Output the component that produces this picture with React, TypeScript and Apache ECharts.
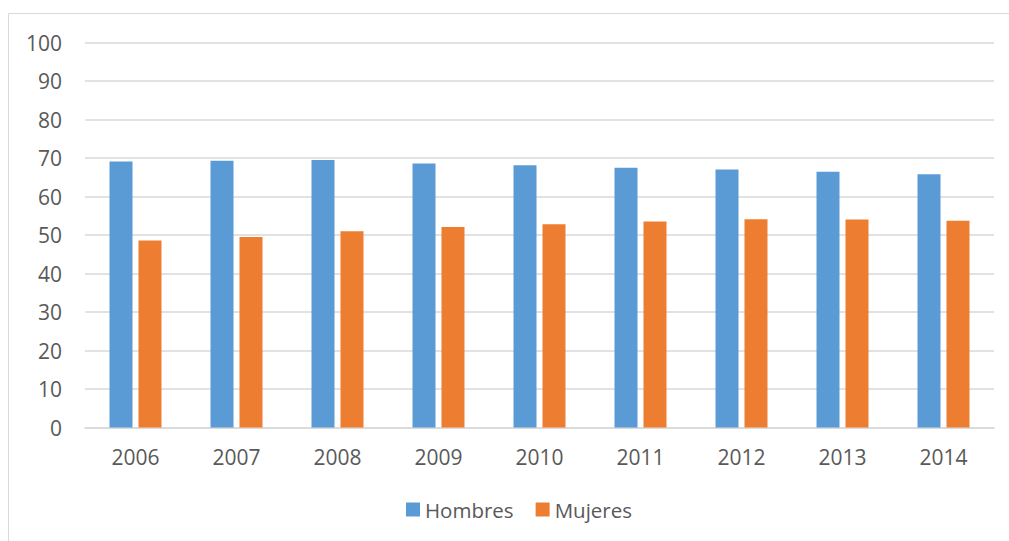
import React, { useEffect, useRef } from "react";
import * as echarts from "echarts";

const years = ["2006", "2007", "2008", "2009", "2010", "2011", "2012", "2013", "2014"];
const hombres = [69.1, 69.3, 69.5, 68.6, 68.1, 67.5, 67.0, 66.4, 65.8];
const mujeres = [48.6, 49.5, 51.0, 52.1, 52.8, 53.5, 54.1, 54.0, 53.7];

export default function App() {
  const ref = useRef<HTMLDivElement>(null);
  useEffect(() => {
    if (!ref.current) return;
    document.body.style.overflow = "hidden";
    const chart = echarts.init(ref.current, null, { renderer: "svg" });
    const font = "'Open Sans', sans-serif";
    chart.setOption({
      animation: false,
      textStyle: { fontFamily: font },
      graphic: [
        {
          type: "polyline",
          shape: { points: [[0.5, 600], [0.5, 5.5], [1100, 5.5]] },
          style: { fill: "none", stroke: "#d9d9d9", lineWidth: 1 },
          silent: true,
        },
      ],
      grid: { left: 77, right: 15, top: 34.5, bottom: 113.5, containLabel: false },
      legend: {
        left: 393,
        top: 486,
        itemWidth: 14,
        itemHeight: 14,
        itemGap: 22,
        icon: "rect",
        textStyle: { fontSize: 20.5, color: "#595959", fontFamily: font },
        data: ["Hombres", "Mujeres"],
      },
      xAxis: {
        type: "category",
        data: years,
        axisLine: { show: true, lineStyle: { color: "#d9d9d9", width: 1.5 } },
        axisTick: { show: false },
        axisLabel: { fontSize: 21, color: "#595959", margin: 19, fontFamily: font },
      },
      yAxis: {
        type: "value",
        min: 0,
        max: 100,
        interval: 10,
        axisLine: { show: false },
        axisTick: { show: false },
        axisLabel: { fontSize: 21, color: "#595959", margin: 23, fontFamily: font },
        splitLine: { lineStyle: { color: "#d9d9d9", width: 1.5 } },
      },
      series: [
        {
          name: "Hombres",
          type: "bar",
          data: hombres,
          barWidth: 23,
          barGap: "26%",
          itemStyle: { color: "#5b9bd5" },
        },
        {
          name: "Mujeres",
          type: "bar",
          data: mujeres,
          barWidth: 23,
          barGap: "26%",
          itemStyle: { color: "#ed7d31" },
        },
      ],
    });
    return () => chart.dispose();
  }, []);
  return (
    <div
      ref={ref}
      style={{ position: "absolute", left: 8, top: 8, width: 1001, height: 533 }}
    />
  );
}
